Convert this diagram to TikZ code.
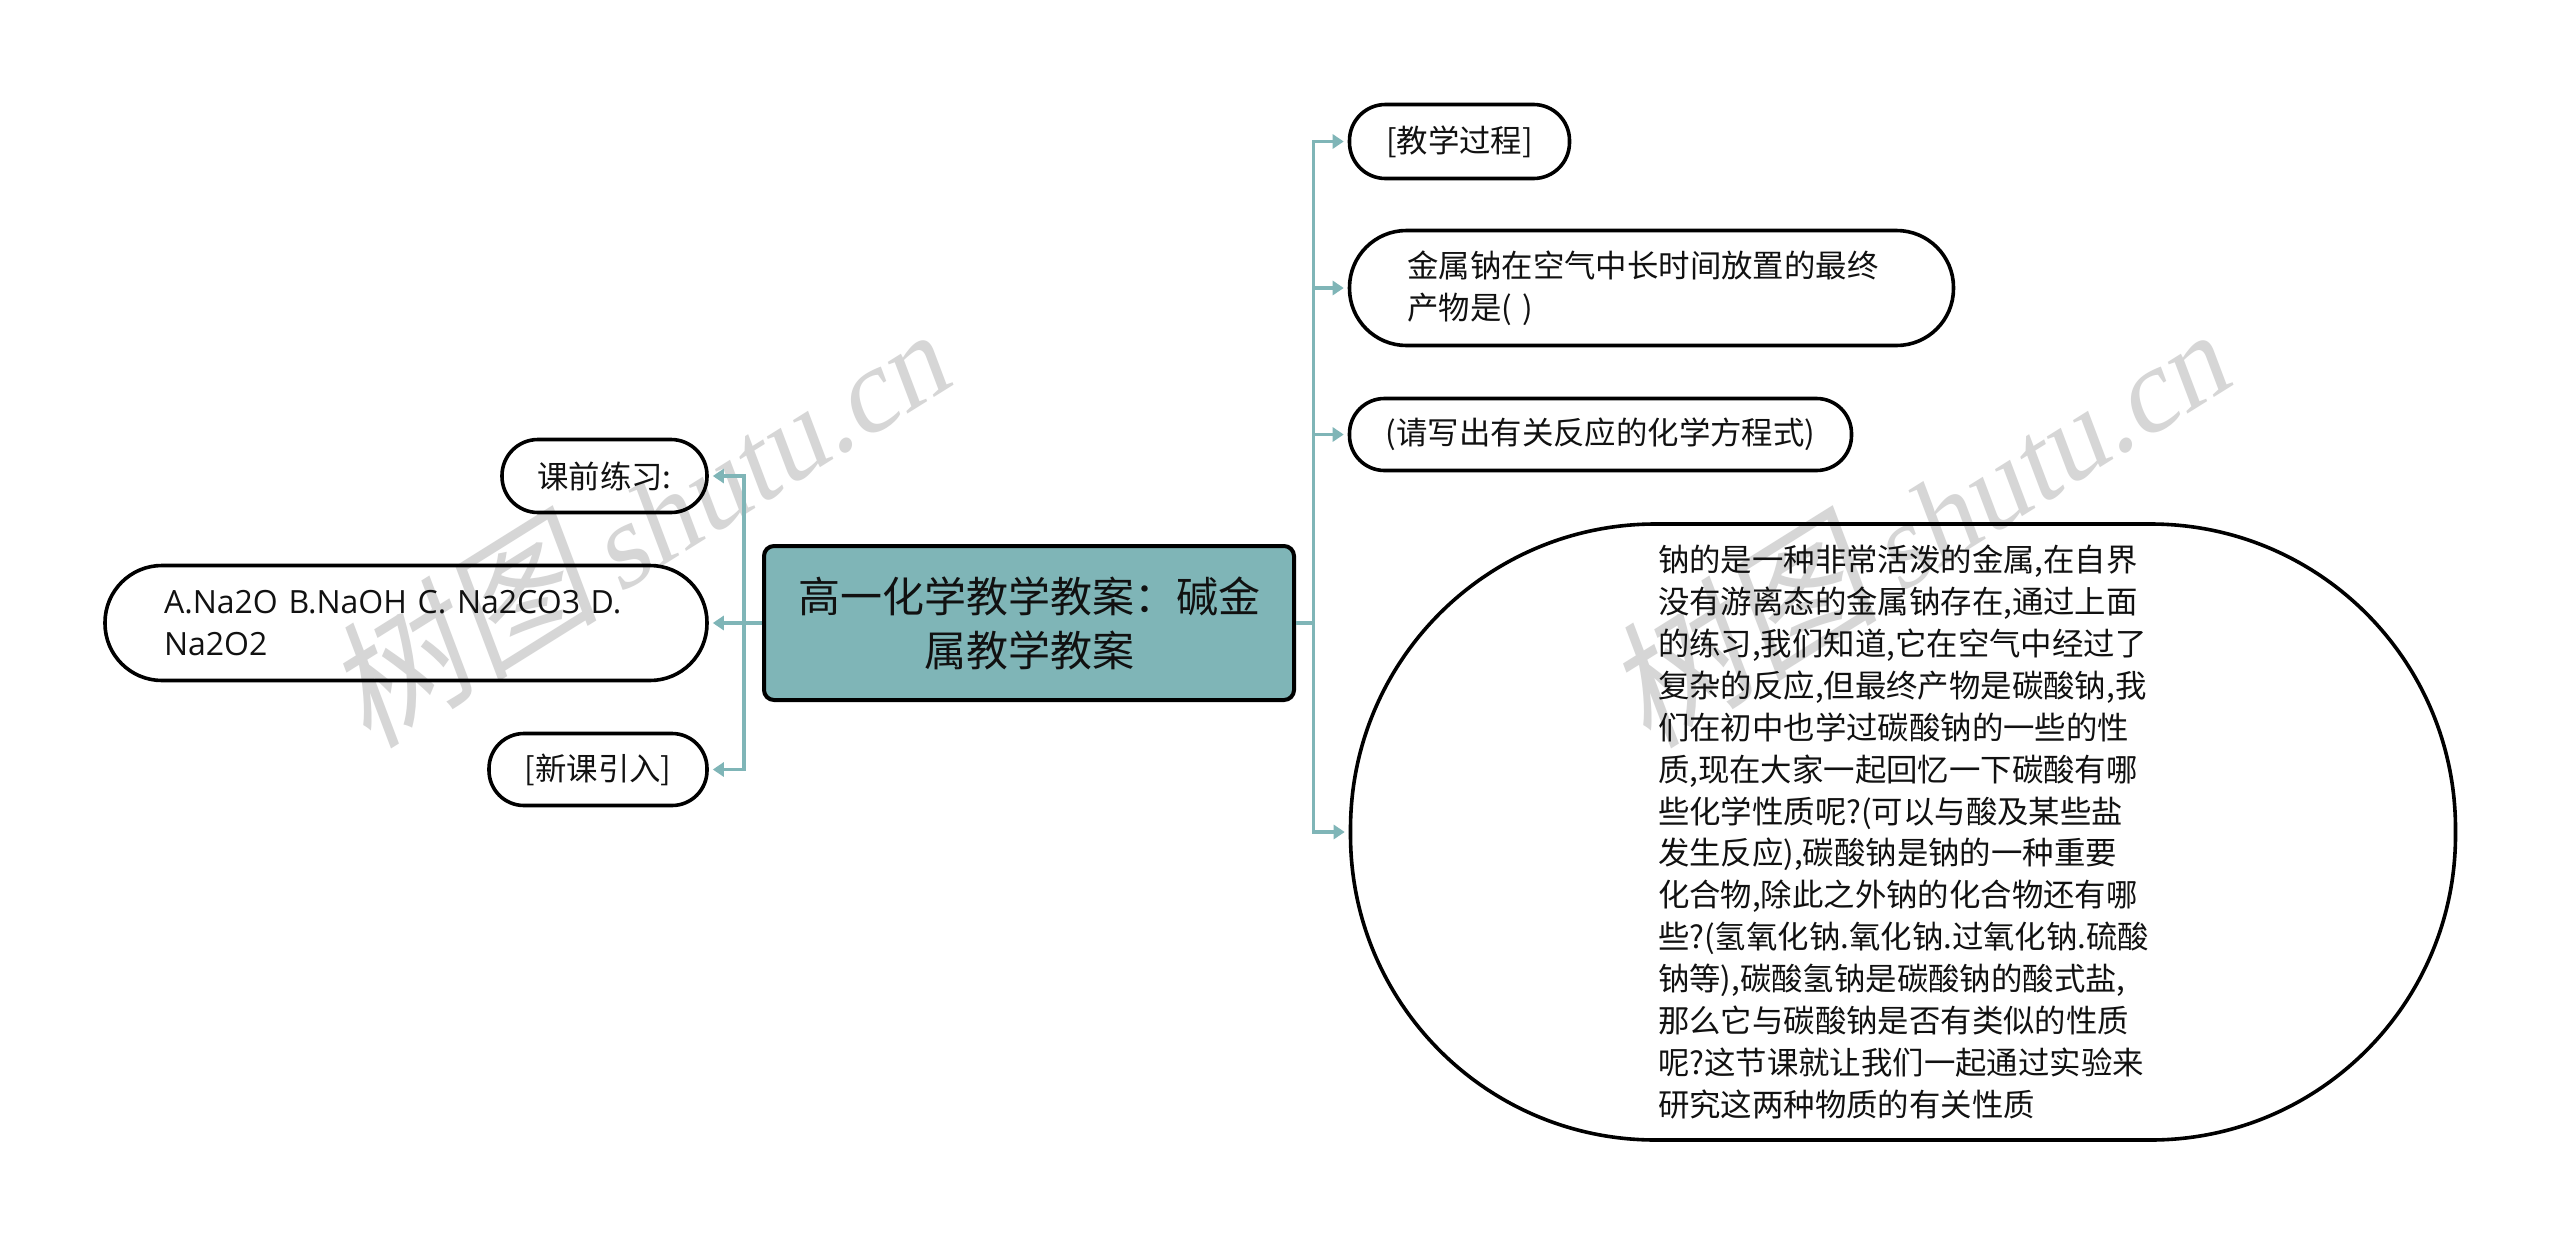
\documentclass[tikz,border=0pt]{standalone}
\usepackage{fontspec}
\usetikzlibrary{arrows.meta}
\setmainfont{Noto Sans CJK SC}
\newfontfamily\latinfont{Open Sans}
\newfontfamily\wmlatin{Liberation Serif}[FakeSlant=0.2]
\newfontfamily\wmcjk{Noto Sans CJK SC}[FakeSlant=0.2]
\definecolor{teal}{HTML}{7FB5B7}
\definecolor{ink}{HTML}{111111}
\definecolor{wm}{HTML}{D6D6D6}
\tikzset{
  topic/.style={draw=black,line width=3.6pt,inner sep=0pt,text=ink,align=left,
    font=\fontsize{31.4}{41.9}\selectfont},
  rootbox/.style={draw=black,line width=4pt,fill=teal,inner sep=0pt,rounded corners=10pt,text=ink,align=center,
    minimum width=530pt,minimum height=154pt,font=\fontsize{42}{54}\selectfont},
  link/.style={draw=teal,line width=3.5pt,-{Triangle[length=11pt,width=14pt]},shorten >=4pt},
  trunk/.style={draw=teal,line width=3.5pt},
  watermark/.style={text=wm,rotate=32,inner sep=0pt,font=\fontsize{118}{118}\selectfont}
}
\begin{document}
\begin{tikzpicture}[x=1pt,y=-1pt]
\useasboundingbox (0,0) rectangle (2560,1245);
\fill[white] (0,0) rectangle (2560,1245);

% watermarks
\node[watermark] (wm1) at (634,523) {{\wmcjk\fontsize{138}{138}\selectfont 树图}\,{\wmlatin shutu.cn}};
\node[watermark] (wm2) at (1914,523) {{\wmcjk\fontsize{138}{138}\selectfont 树图}\,{\wmlatin shutu.cn}};

\node[rootbox] (root) at (1029,623) {高一化学教学教案：碱金\\属教学教案};

% right side
\node[topic,minimum width=220pt,minimum height=74pt,rounded corners=36pt] (r1) at (1459.5,141.5) {[教学过程]};
\node[topic,minimum width=604pt,minimum height=115pt,rounded corners=57pt,text width=488pt] (r2) at (1651.5,288) {金属钠在空气中长时间放置的最终\\产物是( )};
\node[topic,minimum width=502pt,minimum height=72pt,rounded corners=35pt] (r3) at (1600.5,434.5) {(请写出有关反应的化学方程式)};
\node[topic,minimum width=1105pt,minimum height=616pt,rounded corners=305pt,text width=490pt] (r4) at (1903,832) {钠的是一种非常活泼的金属,在自界\\没有游离态的金属钠存在,通过上面\\的练习,我们知道,它在空气中经过了\\复杂的反应,但最终产物是碳酸钠,我\\们在初中也学过碳酸钠的一些的性\\质,现在大家一起回忆一下碳酸有哪\\些化学性质呢?(可以与酸及某些盐\\发生反应),碳酸钠是钠的一种重要\\化合物,除此之外钠的化合物还有哪\\些?(氢氧化钠.氧化钠.过氧化钠.硫酸\\钠等),碳酸氢钠是碳酸钠的酸式盐,\\那么它与碳酸钠是否有类似的性质\\呢?这节课就让我们一起通过实验来\\研究这两种物质的有关性质};

% left side
\node[topic,minimum width=205pt,minimum height=73pt,rounded corners=36pt] (l1) at (604.5,476) {课前练习:};
\node[topic,minimum width=602pt,minimum height=115pt,rounded corners=57pt,text width=484pt,font=\fontsize{32}{41.9}\selectfont] (l2) at (406,623) {\latinfont A.Na2O B.NaOH C. Na2CO3 D.\\\latinfont Na2O2};
\node[topic,minimum width=218pt,minimum height=72pt,rounded corners=35pt] (l3) at (598,769.5) {[新课引入]};

\coordinate (rtrunk) at (1313.5,623);
\coordinate (ltrunk) at (744,623);

\draw[trunk] (root.east) -- (rtrunk);
\draw[link] (rtrunk) |- (r1.west);
\draw[link] (rtrunk) |- (r2.west);
\draw[link] (rtrunk) |- (r3.west);
\draw[link] (rtrunk) |- (r4.west);

\draw[link] (root.west) -- (l2.east);
\draw[link] (ltrunk) |- (l1.east);
\draw[link] (ltrunk) |- (l3.east);
\end{tikzpicture}
\end{document}
